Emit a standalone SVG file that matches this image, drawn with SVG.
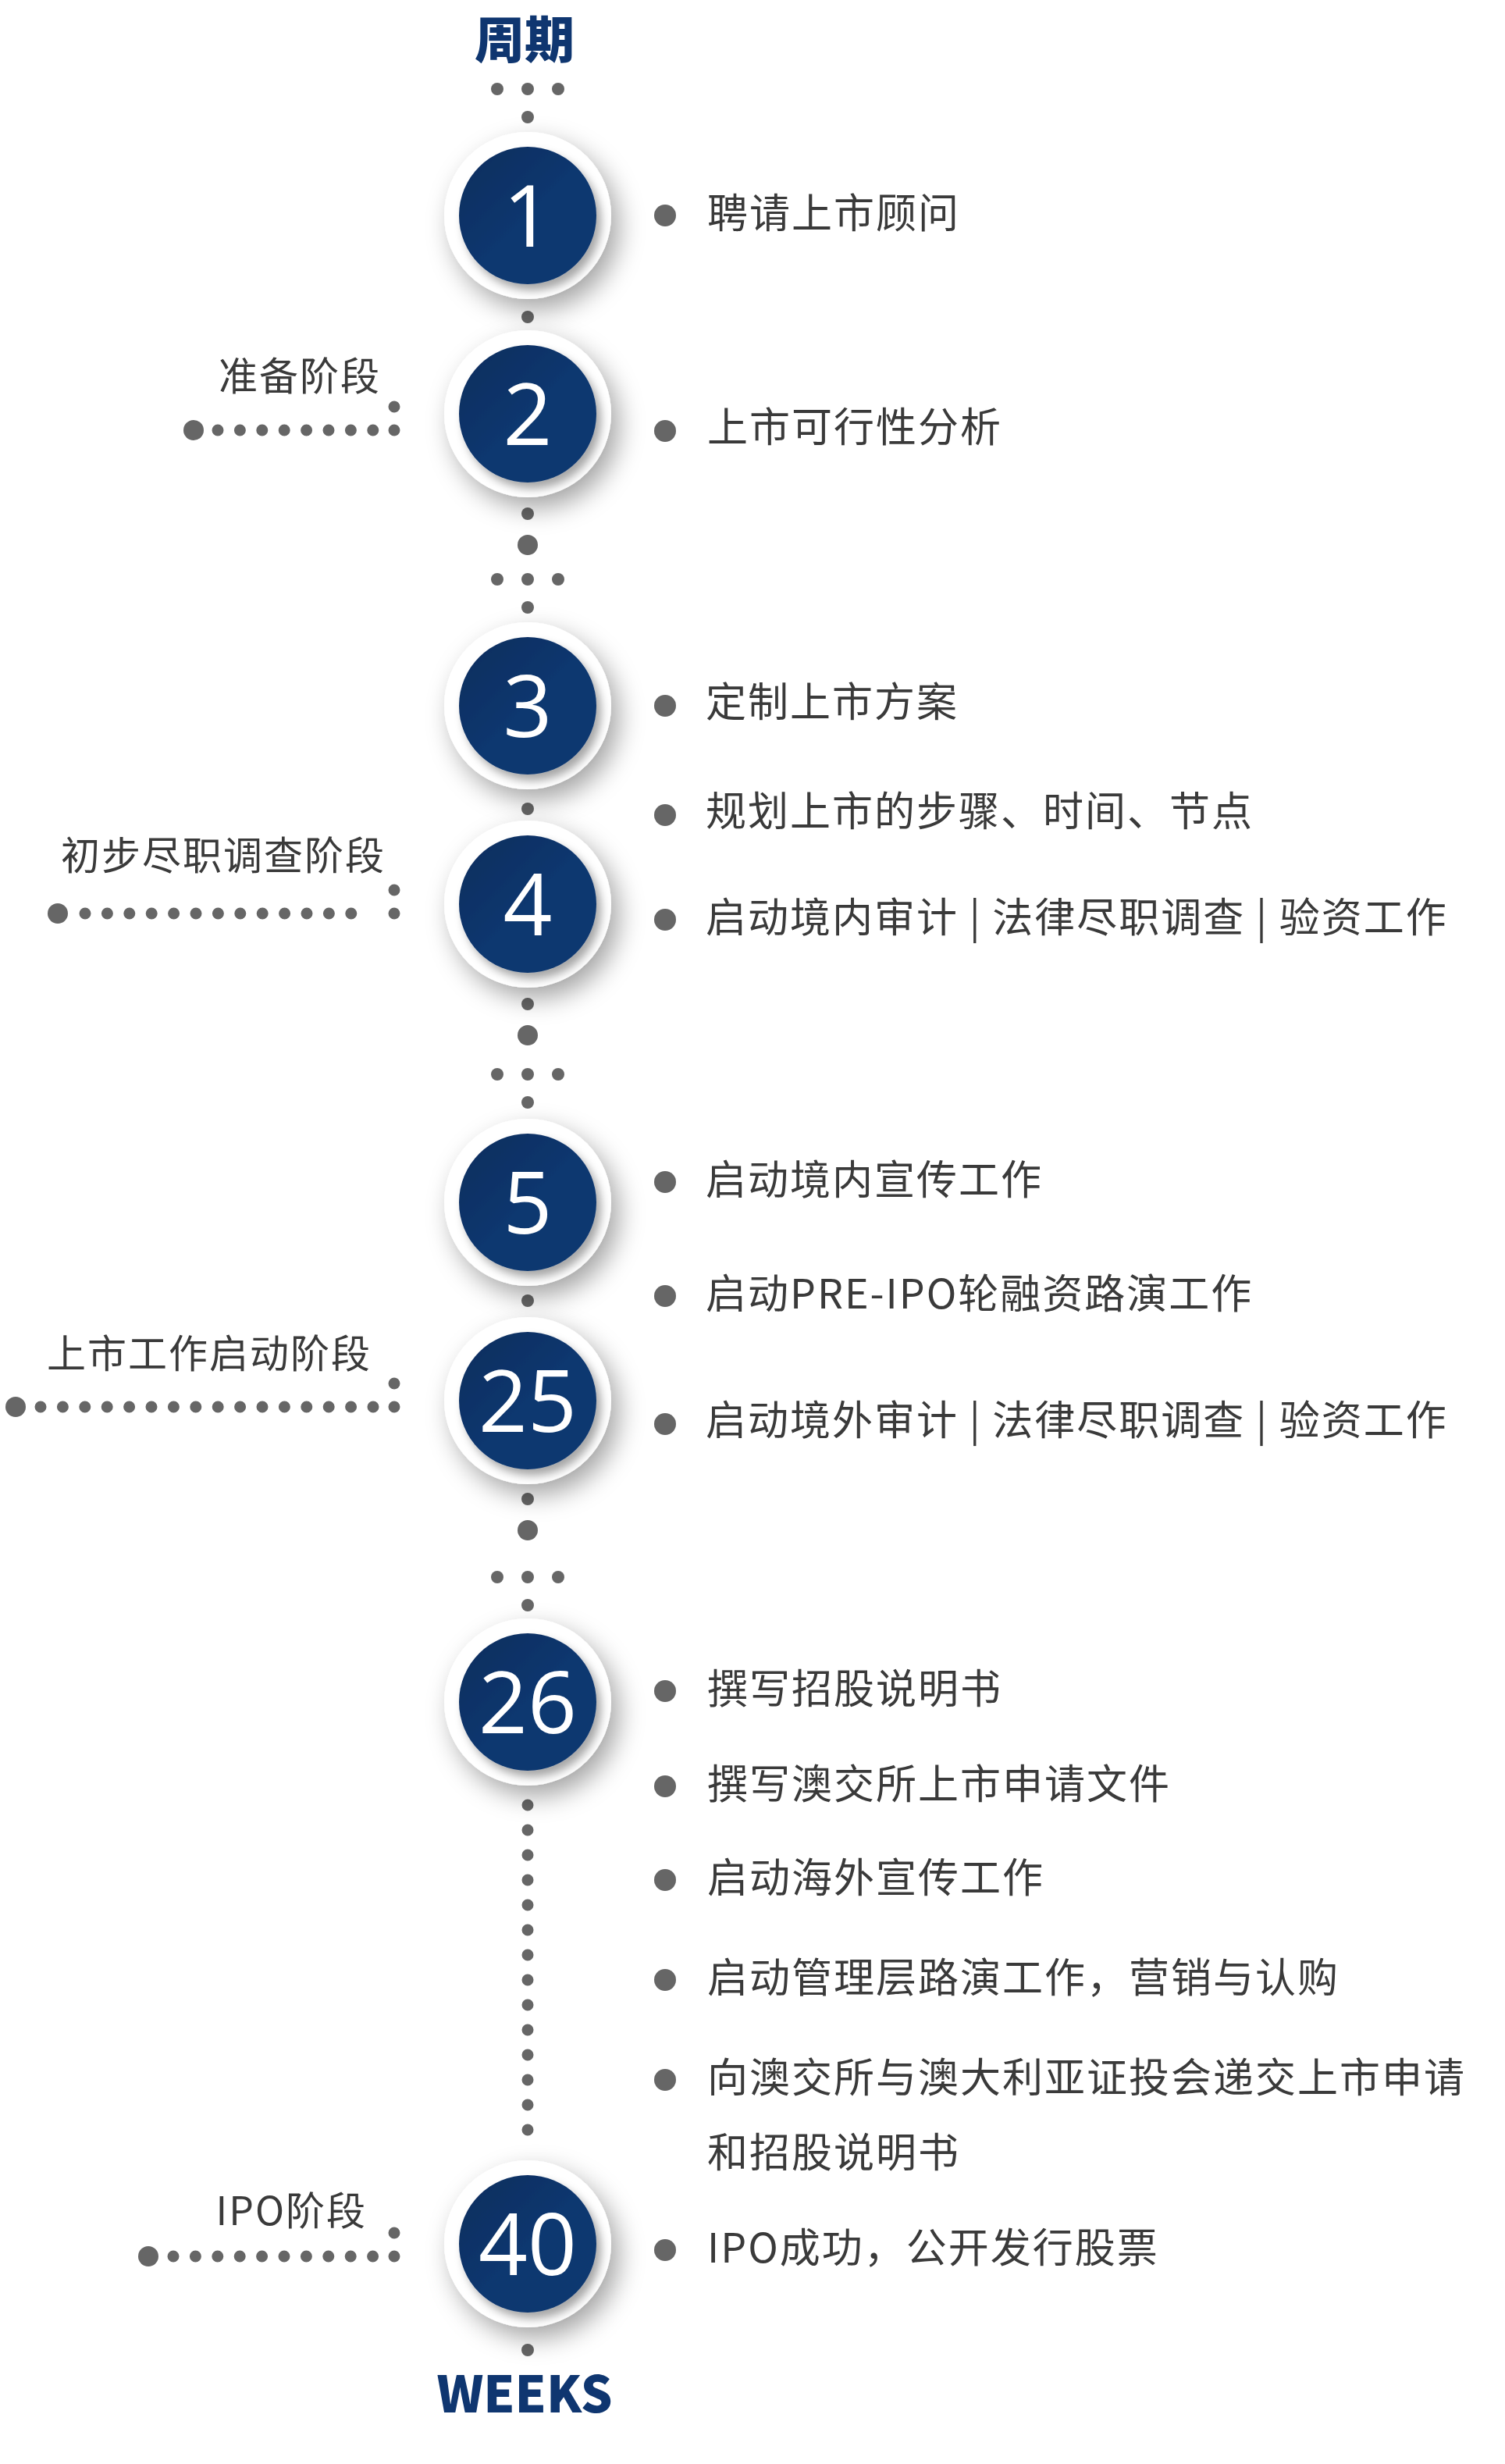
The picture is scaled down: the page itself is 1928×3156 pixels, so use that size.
<svg xmlns="http://www.w3.org/2000/svg" width="1928" height="3156" viewBox="0 0 1928 3156">
<style>
.d{fill:#666}
.t{font-family:"Noto Sans CJK SC","Open Sans",sans-serif;font-size:52px;fill:#3a3a3a;letter-spacing:2px}
.l{font-family:"Noto Sans CJK SC","Open Sans",sans-serif;font-size:50px;fill:#3a3a3a;text-anchor:end;letter-spacing:2px}
.n{font-family:"Open Sans","Liberation Sans",sans-serif;font-size:110px;fill:#fff;text-anchor:middle}
.h{font-family:"Noto Sans CJK SC","Liberation Sans",sans-serif;font-weight:900;fill:#0f3670;text-anchor:middle}
</style>
<defs>
<filter id="sh" x="-50%" y="-50%" width="200%" height="200%"><feDropShadow dx="10" dy="14" stdDeviation="16" flood-color="#000" flood-opacity="0.35"/></filter>
<filter id="sh2" x="-30%" y="-30%" width="160%" height="160%"><feDropShadow dx="6" dy="8" stdDeviation="6" flood-color="#000" flood-opacity="0.35"/></filter>
<linearGradient id="bg" x1="0" y1="0" x2="1" y2="1"><stop offset="0" stop-color="#0c2c5c"/><stop offset="0.5" stop-color="#10376f"/><stop offset="1" stop-color="#10386f"/></linearGradient>
<g id="node"><circle r="107" fill="#fff" filter="url(#sh)"/><circle r="88" fill="url(#bg)" filter="url(#sh2)"/></g>
</defs>
<rect width="1928" height="3156" fill="#fff"/>
<text class="h" x="672" y="74" font-size="64">周期</text>
<text class="h" x="672" y="3090" font-size="64" font-family="Open Sans,Liberation Sans,sans-serif">WEEKS</text>
<g id="connectors">
<circle class="d" cx="637" cy="114" r="8"/><circle class="d" cx="676" cy="114" r="8"/><circle class="d" cx="715" cy="114" r="8"/>
<circle class="d" cx="676" cy="150" r="8"/>
<circle class="d" cx="676" cy="406" r="8"/>
<circle class="d" cx="676" cy="658" r="8"/><circle class="d" cx="676" cy="698" r="13"/>
<circle class="d" cx="637" cy="742" r="8"/><circle class="d" cx="676" cy="742" r="8"/><circle class="d" cx="715" cy="742" r="8"/>
<circle class="d" cx="676" cy="778" r="8"/>
<circle class="d" cx="676" cy="1036" r="8"/>
<circle class="d" cx="676" cy="1286" r="8"/><circle class="d" cx="676" cy="1326" r="13"/>
<circle class="d" cx="637" cy="1376" r="8"/><circle class="d" cx="676" cy="1376" r="8"/><circle class="d" cx="715" cy="1376" r="8"/>
<circle class="d" cx="676" cy="1412" r="8"/>
<circle class="d" cx="676" cy="1666" r="8"/>
<circle class="d" cx="676" cy="1920" r="8"/><circle class="d" cx="676" cy="1960" r="13"/>
<circle class="d" cx="637" cy="2020" r="8"/><circle class="d" cx="676" cy="2020" r="8"/><circle class="d" cx="715" cy="2020" r="8"/>
<circle class="d" cx="676" cy="2056" r="8"/>
<path d="M676 2312V2760" stroke="#666" stroke-width="15" stroke-linecap="round" stroke-dasharray="0 32"/>
<circle class="d" cx="676" cy="3010" r="8"/>
<!-- phase leaders -->
<circle class="d" cx="248" cy="551" r="13"/>
<path d="M279 551H478" stroke="#666" stroke-width="15" stroke-linecap="round" stroke-dasharray="0 28.4"/>
<path d="M505 521V581" stroke="#666" stroke-width="15" stroke-linecap="round" stroke-dasharray="0 30"/>
<circle class="d" cx="74" cy="1170" r="13"/>
<path d="M109 1170H478" stroke="#666" stroke-width="15" stroke-linecap="round" stroke-dasharray="0 28.4"/>
<path d="M505 1140V1200" stroke="#666" stroke-width="15" stroke-linecap="round" stroke-dasharray="0 30"/>
<circle class="d" cx="20" cy="1802" r="13"/>
<path d="M52 1802H478" stroke="#666" stroke-width="15" stroke-linecap="round" stroke-dasharray="0 28.4"/>
<path d="M505 1772V1832" stroke="#666" stroke-width="15" stroke-linecap="round" stroke-dasharray="0 30"/>
<circle class="d" cx="190" cy="2890" r="13"/>
<path d="M222 2890H478" stroke="#666" stroke-width="15" stroke-linecap="round" stroke-dasharray="0 28.4"/>
<path d="M505 2860V2920" stroke="#666" stroke-width="15" stroke-linecap="round" stroke-dasharray="0 30"/>
</g>
<g id="n1"><use href="#node" x="676" y="276"/><text class="n" x="676" y="316">1</text></g>
<g id="n2"><use href="#node" x="676" y="530"/><text class="n" x="676" y="570">2</text></g>
<g id="n3"><use href="#node" x="676" y="904"/><text class="n" x="676" y="944">3</text></g>
<g id="n4"><use href="#node" x="676" y="1158"/><text class="n" x="676" y="1198">4</text></g>
<g id="n5"><use href="#node" x="676" y="1540"/><text class="n" x="676" y="1580">5</text></g>
<g id="n25"><use href="#node" x="676" y="1794"/><text class="n" x="676" y="1834">25</text></g>
<g id="n26"><use href="#node" x="676" y="2180"/><text class="n" x="676" y="2220">26</text></g>
<g id="n40"><use href="#node" x="676" y="2874"/><text class="n" x="676" y="2914">40</text></g>
<g id="phases">
<text class="l" x="488" y="500">准备阶段</text>
<text class="l" x="494" y="1114">初步尽职调查阶段</text>
<text class="l" x="476" y="1752">上市工作启动阶段</text>
<text class="l" x="470" y="2850">IPO阶段</text>
</g>
<g id="items">
<circle class="d" cx="852" cy="276" r="14"/><text class="t" x="906" y="292">聘请上市顾问</text>
<circle class="d" cx="852" cy="552" r="14"/><text class="t" x="906" y="566">上市可行性分析</text>
<circle class="d" cx="852" cy="904" r="14"/><text class="t" x="904" y="918">定制上市方案</text>
<circle class="d" cx="852" cy="1044" r="14"/><text class="t" x="904" y="1058">规划上市的步骤、时间、节点</text>
<circle class="d" cx="852" cy="1178" r="14"/><text class="t" x="904" y="1194">启动境内审计 | 法律尽职调查 | 验资工作</text>
<circle class="d" cx="852" cy="1514" r="14"/><text class="t" x="904" y="1530">启动境内宣传工作</text>
<circle class="d" cx="852" cy="1660" r="14"/><text class="t" x="904" y="1676">启动PRE-IPO轮融资路演工作</text>
<circle class="d" cx="852" cy="1824" r="14"/><text class="t" x="904" y="1838">启动境外审计 | 法律尽职调查 | 验资工作</text>
<circle class="d" cx="852" cy="2166" r="14"/><text class="t" x="906" y="2182">撰写招股说明书</text>
<circle class="d" cx="852" cy="2288" r="14"/><text class="t" x="906" y="2304">撰写澳交所上市申请文件</text>
<circle class="d" cx="852" cy="2408" r="14"/><text class="t" x="906" y="2424">启动海外宣传工作</text>
<circle class="d" cx="852" cy="2536" r="14"/><text class="t" x="906" y="2552">启动管理层路演工作，营销与认购</text>
<circle class="d" cx="852" cy="2664" r="14"/><text class="t" x="906" y="2680">向澳交所与澳大利亚证投会递交上市申请</text>
<text class="t" x="906" y="2776">和招股说明书</text>
<circle class="d" cx="852" cy="2882" r="14"/><text class="t" x="906" y="2898">IPO成功，公开发行股票</text>
</g>
</svg>
